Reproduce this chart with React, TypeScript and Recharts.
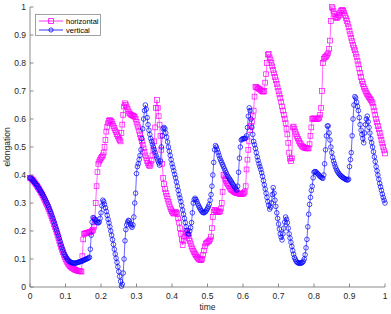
import React from 'react';
import { LineChart, Line, XAxis, YAxis } from 'recharts';

const horizontal = [
  0.390, 0.388, 0.385, 0.382, 0.378, 0.374, 0.370, 0.366, 0.361, 0.356,
  0.350, 0.345, 0.339, 0.334, 0.328, 0.322, 0.315, 0.308, 0.301, 0.294,
  0.286, 0.278, 0.270, 0.262, 0.253, 0.244, 0.235, 0.225, 0.215, 0.205,
  0.195, 0.185, 0.175, 0.164, 0.153, 0.143, 0.133, 0.124, 0.115, 0.107,
  0.100, 0.094, 0.088, 0.083, 0.079, 0.075, 0.072, 0.069, 0.067, 0.065,
  0.063, 0.061, 0.060, 0.059, 0.058, 0.057, 0.056, 0.056, 0.055, 0.110,
  0.170, 0.190, 0.191, 0.192, 0.193, 0.194, 0.195, 0.196, 0.197, 0.198,
  0.200, 0.204, 0.215, 0.240, 0.300, 0.360, 0.410, 0.440, 0.448, 0.454,
  0.460, 0.465, 0.470, 0.480, 0.500, 0.525, 0.555, 0.572, 0.585, 0.593,
  0.596, 0.594, 0.590, 0.583, 0.575, 0.568, 0.560, 0.553, 0.545, 0.538,
  0.530, 0.525, 0.520, 0.550, 0.580, 0.615, 0.645, 0.656, 0.650, 0.642,
  0.635, 0.627, 0.620, 0.617, 0.615, 0.613, 0.612, 0.610, 0.608, 0.600,
  0.590, 0.580, 0.570, 0.558, 0.545, 0.533, 0.520, 0.508, 0.495, 0.483,
  0.470, 0.460, 0.450, 0.442, 0.435, 0.432, 0.440, 0.452, 0.470, 0.490,
  0.520, 0.570, 0.640, 0.668, 0.640, 0.610, 0.580, 0.540, 0.490, 0.440,
  0.390, 0.368, 0.350, 0.337, 0.325, 0.315, 0.305, 0.295, 0.285, 0.277,
  0.270, 0.265, 0.262, 0.265, 0.268, 0.266, 0.260, 0.245, 0.230, 0.210,
  0.190, 0.170, 0.150, 0.165, 0.180, 0.192, 0.200, 0.195, 0.185, 0.175,
  0.165, 0.155, 0.145, 0.137, 0.130, 0.124, 0.118, 0.113, 0.108, 0.104,
  0.100, 0.098, 0.096, 0.096, 0.100, 0.115, 0.130, 0.145, 0.155, 0.158,
  0.160, 0.163, 0.165, 0.170, 0.180, 0.210, 0.250, 0.268, 0.275, 0.274,
  0.272, 0.270, 0.268, 0.268, 0.270, 0.280, 0.300, 0.340, 0.400, 0.395,
  0.385, 0.378, 0.372, 0.366, 0.360, 0.355, 0.350, 0.347, 0.345, 0.342,
  0.340, 0.338, 0.337, 0.336, 0.335, 0.334, 0.333, 0.332, 0.332, 0.332,
  0.333, 0.336, 0.340, 0.360, 0.420, 0.455, 0.490, 0.520, 0.560, 0.575,
  0.590, 0.610, 0.630, 0.680, 0.715, 0.714, 0.712, 0.710, 0.708, 0.706,
  0.703, 0.700, 0.698, 0.698, 0.700, 0.730, 0.760, 0.800, 0.830, 0.832,
  0.820, 0.810, 0.800, 0.788, 0.775, 0.763, 0.750, 0.738, 0.725, 0.713,
  0.700, 0.688, 0.675, 0.660, 0.645, 0.630, 0.615, 0.600, 0.585, 0.565,
  0.545, 0.515, 0.480, 0.458, 0.450, 0.460, 0.570, 0.573, 0.565, 0.555,
  0.545, 0.537, 0.530, 0.522, 0.515, 0.510, 0.505, 0.502, 0.500, 0.498,
  0.497, 0.496, 0.495, 0.495, 0.495, 0.510, 0.540, 0.570, 0.600, 0.602,
  0.602, 0.601, 0.600, 0.600, 0.600, 0.602, 0.605, 0.615, 0.640, 0.700,
  0.800, 0.815, 0.820, 0.822, 0.825, 0.830, 0.835, 0.850, 0.880, 0.950,
  1.000, 0.995, 0.985, 0.975, 0.965, 0.962, 0.960, 0.965, 0.970, 0.978,
  0.985, 0.988, 0.990, 0.986, 0.980, 0.970, 0.960, 0.950, 0.940, 0.928,
  0.915, 0.903, 0.890, 0.878, 0.865, 0.855, 0.845, 0.833, 0.822, 0.808,
  0.795, 0.780, 0.765, 0.750, 0.735, 0.725, 0.715, 0.708, 0.700, 0.694,
  0.688, 0.683, 0.678, 0.673, 0.668, 0.662, 0.656, 0.643, 0.630, 0.615,
  0.600, 0.588, 0.575, 0.563, 0.550, 0.538, 0.525, 0.513, 0.500, 0.488,
  0.477,
];

const vertical = [
  0.390, 0.388, 0.385, 0.382, 0.378, 0.374, 0.370, 0.366, 0.362, 0.357,
  0.352, 0.347, 0.342, 0.337, 0.332, 0.326, 0.320, 0.314, 0.307, 0.300,
  0.293, 0.286, 0.278, 0.270, 0.262, 0.253, 0.244, 0.234, 0.224, 0.214,
  0.204, 0.194, 0.184, 0.174, 0.163, 0.152, 0.142, 0.133, 0.124, 0.116,
  0.110, 0.105, 0.100, 0.096, 0.093, 0.090, 0.088, 0.087, 0.086, 0.085,
  0.085, 0.085, 0.086, 0.087, 0.088, 0.089, 0.090, 0.091, 0.092, 0.093,
  0.095, 0.096, 0.098, 0.099, 0.101, 0.102, 0.104, 0.106, 0.135, 0.185,
  0.232, 0.248, 0.246, 0.241, 0.236, 0.232, 0.230, 0.229, 0.232, 0.245,
  0.265, 0.290, 0.310, 0.305, 0.295, 0.283, 0.270, 0.256, 0.242, 0.229,
  0.215, 0.200, 0.185, 0.169, 0.152, 0.135, 0.118, 0.103, 0.088, 0.072,
  0.055, 0.038, 0.020, 0.003, 0.010, 0.050, 0.100, 0.165, 0.205, 0.222,
  0.232, 0.238, 0.236, 0.226, 0.218, 0.213, 0.222, 0.250, 0.300, 0.335,
  0.405, 0.430, 0.440, 0.455, 0.470, 0.490, 0.530, 0.565, 0.600, 0.630,
  0.650, 0.635, 0.605, 0.580, 0.560, 0.545, 0.530, 0.520, 0.510, 0.500,
  0.490, 0.480, 0.470, 0.461, 0.452, 0.443, 0.435, 0.450, 0.500, 0.540,
  0.565, 0.570, 0.565, 0.550, 0.535, 0.518, 0.500, 0.485, 0.470, 0.455,
  0.440, 0.428, 0.415, 0.402, 0.390, 0.375, 0.360, 0.345, 0.330, 0.318,
  0.305, 0.290, 0.275, 0.260, 0.245, 0.230, 0.215, 0.202, 0.190, 0.188,
  0.200, 0.212, 0.230, 0.265, 0.300, 0.312, 0.317, 0.312, 0.305, 0.297,
  0.290, 0.284, 0.278, 0.273, 0.268, 0.266, 0.265, 0.267, 0.270, 0.275,
  0.280, 0.287, 0.295, 0.310, 0.330, 0.360, 0.400, 0.445, 0.490, 0.505,
  0.500, 0.490, 0.480, 0.470, 0.460, 0.452, 0.445, 0.437, 0.430, 0.422,
  0.415, 0.408, 0.400, 0.395, 0.390, 0.385, 0.380, 0.375, 0.370, 0.365,
  0.360, 0.355, 0.350, 0.346, 0.360, 0.410, 0.460, 0.500, 0.525, 0.528,
  0.530, 0.530, 0.530, 0.532, 0.540, 0.570, 0.610, 0.640, 0.630, 0.600,
  0.570, 0.545, 0.520, 0.508, 0.495, 0.480, 0.465, 0.452, 0.440, 0.430,
  0.420, 0.408, 0.395, 0.380, 0.365, 0.350, 0.335, 0.320, 0.305, 0.292,
  0.278, 0.285, 0.300, 0.330, 0.355, 0.335, 0.310, 0.288, 0.265, 0.245,
  0.225, 0.207, 0.190, 0.178, 0.168, 0.190, 0.210, 0.232, 0.250, 0.242,
  0.230, 0.210, 0.190, 0.175, 0.160, 0.145, 0.130, 0.117, 0.105, 0.098,
  0.092, 0.088, 0.086, 0.085, 0.085, 0.085, 0.086, 0.088, 0.092, 0.100,
  0.115, 0.140, 0.170, 0.215, 0.260, 0.295, 0.320, 0.345, 0.360, 0.390,
  0.410, 0.412, 0.412, 0.408, 0.405, 0.402, 0.398, 0.395, 0.392, 0.390,
  0.388, 0.400, 0.440, 0.490, 0.540, 0.575, 0.575, 0.550, 0.525, 0.500,
  0.480, 0.463, 0.450, 0.440, 0.430, 0.422, 0.415, 0.410, 0.405, 0.401,
  0.398, 0.395, 0.392, 0.390, 0.388, 0.386, 0.384, 0.383, 0.382, 0.385,
  0.430, 0.455, 0.480, 0.540, 0.600, 0.650, 0.680, 0.675, 0.660, 0.645,
  0.630, 0.605, 0.580, 0.560, 0.545, 0.530, 0.515, 0.550, 0.580, 0.600,
  0.610, 0.590, 0.570, 0.550, 0.530, 0.515, 0.500, 0.483, 0.465, 0.448,
  0.430, 0.415, 0.400, 0.385, 0.370, 0.358, 0.345, 0.332, 0.320, 0.310,
  0.300,
];

const time = horizontal.map((_, i) => Math.round(i * 25) / 10000);

const xTicks = [0, 0.1, 0.2, 0.3, 0.4, 0.5, 0.6, 0.7, 0.8, 0.9, 1];
const yTicks = [0, 0.1, 0.2, 0.3, 0.4, 0.5, 0.6, 0.7, 0.8, 0.9, 1];
const seriesNames = ['horizontal', 'vertical'];
const xLabel = 'time';
const yLabel = 'elongation';

const data = time.map((t, i) => ({ t, h: horizontal[i], v: vertical[i] }));

const MAG = '#ff00ff';
const BLUE = '#0000ff';
const AX = '#6f6f6f';
const TXT = '#262626';
const FONT = '"Liberation Sans", Arial, Helvetica, sans-serif';
const FS = 8.5;
const TL = 3.5;

const fmt = (v: number) => String(+v.toFixed(1));

const BottomTick = (p: any) => {
  const { x, y, payload } = p;
  return (
    <g>
      <line x1={x} x2={x} y1={y} y2={y - TL} stroke={AX} strokeWidth={0.8} />
      <text x={x} y={y + 12} textAnchor="middle" fontSize={FS} fill={TXT} fontFamily={FONT}>
        {fmt(payload.value)}
      </text>
    </g>
  );
};
const TopTick = (p: any) => {
  const { x, y } = p;
  return <line x1={x} x2={x} y1={y} y2={y + TL} stroke={AX} strokeWidth={0.8} />;
};
const LeftTick = (p: any) => {
  const { x, y, payload } = p;
  return (
    <g>
      <line x1={x} x2={x + TL} y1={y} y2={y} stroke={AX} strokeWidth={0.8} />
      <text x={x - 4} y={y + 3} textAnchor="end" fontSize={FS} fill={TXT} fontFamily={FONT}>
        {fmt(payload.value)}
      </text>
    </g>
  );
};
const RightTick = (p: any) => {
  const { x, y } = p;
  return <line x1={x} x2={x - TL} y1={y} y2={y} stroke={AX} strokeWidth={0.8} />;
};

const SquareDot = (p: any) => {
  const { cx, cy, index } = p;
  if (cx == null || cy == null) return <g key={`s${index}`} />;
  return (
    <rect key={`s${index}`} x={cx - 2.4} y={cy - 2.4} width={4.8} height={4.8}
      fill="none" stroke={MAG} strokeWidth={0.7} />
  );
};
const CircleDot = (p: any) => {
  const { cx, cy, index } = p;
  if (cx == null || cy == null) return <g key={`c${index}`} />;
  return <circle key={`c${index}`} cx={cx} cy={cy} r={2.3} fill="none" stroke={BLUE} strokeWidth={0.7} />;
};

const XLabel = (p: any) => {
  const { viewBox } = p;
  const cx = viewBox.x + viewBox.width / 2;
  return (
    <text x={cx} y={310} textAnchor="middle" fontSize={FS} fill={TXT} fontFamily={FONT}>{xLabel}</text>
  );
};
const YLabel = (p: any) => {
  const { viewBox } = p;
  const cy = viewBox.y + viewBox.height / 2;
  return (
    <text x={10} y={cy} transform={`rotate(-90 10 ${cy})`} textAnchor="middle" fontSize={FS} fill={TXT} fontFamily={FONT}>{yLabel}</text>
  );
};

const LegendBox = () => (
  <svg width={67} height={23} style={{ position: 'absolute', left: 35, top: 14 }}>
    <rect x={0.5} y={0.5} width={65} height={21} fill="#fff" stroke="#8a8a8a" strokeWidth={0.8} />
    <line x1={4} x2={28} y1={7} y2={7} stroke={MAG} strokeWidth={0.8} />
    <rect x={13.6} y={4.6} width={4.8} height={4.8} fill="none" stroke={MAG} strokeWidth={0.8} />
    <text x={31} y={9.6} fontSize={7.5} fill="#000" fontFamily={FONT}>{seriesNames[0]}</text>
    <line x1={4} x2={28} y1={16} y2={16} stroke={BLUE} strokeWidth={0.8} />
    <circle cx={16} cy={16} r={2.1} fill="none" stroke={BLUE} strokeWidth={0.8} />
    <text x={31} y={18.6} fontSize={7.5} fill="#000" fontFamily={FONT}>{seriesNames[1]}</text>
  </svg>
);

export default function App() {
  return (
    <div style={{ position: 'absolute', left: 0, top: 0, width: 391, height: 314, background: '#fff' }}>
      <LineChart width={391} height={314} data={data} margin={{ top: 7, right: 6, bottom: 0, left: 0 }}>
        <XAxis xAxisId="b" dataKey="t" type="number" domain={[0, 1]} ticks={xTicks} interval={0}
          orientation="bottom" height={27} tickSize={0} tickMargin={0} tick={<BottomTick />}
          axisLine={{ stroke: AX, strokeWidth: 0.8 }} tickLine={false}
          label={<XLabel />} />
        <XAxis xAxisId="t" dataKey="t" type="number" domain={[0, 1]} ticks={xTicks} interval={0}
          orientation="top" height={0} tickSize={0} tickMargin={0} tick={<TopTick />}
          axisLine={{ stroke: AX, strokeWidth: 0.8 }} tickLine={false} />
        <YAxis yAxisId="l" type="number" domain={[0, 1]} ticks={yTicks} interval={0}
          orientation="left" width={30} tickSize={0} tickMargin={0} tick={<LeftTick />}
          axisLine={{ stroke: AX, strokeWidth: 0.8 }} tickLine={false}
          label={<YLabel />} />
        <YAxis yAxisId="r" type="number" domain={[0, 1]} ticks={yTicks} interval={0}
          orientation="right" width={0} tickSize={0} tickMargin={0} tick={<RightTick />}
          axisLine={{ stroke: AX, strokeWidth: 0.8 }} tickLine={false} />
        <Line xAxisId="b" yAxisId="l" dataKey="h" name={seriesNames[0]} stroke={MAG} strokeWidth={0.6}
          dot={SquareDot} activeDot={false} isAnimationActive={false} />
        <Line xAxisId="t" yAxisId="r" dataKey="v" name={seriesNames[1]} stroke={BLUE} strokeWidth={0.6}
          dot={CircleDot} activeDot={false} isAnimationActive={false} />
      </LineChart>
      <LegendBox />
    </div>
  );
}
